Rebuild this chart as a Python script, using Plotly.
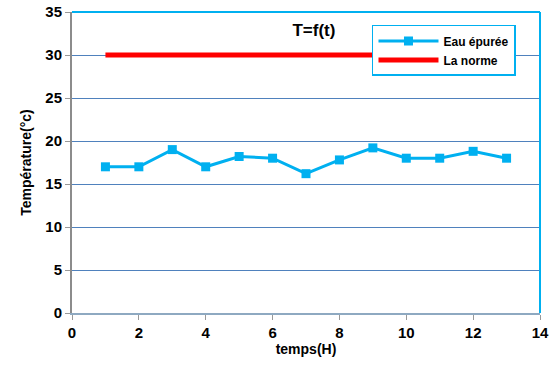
import plotly.graph_objects as go

t_hours = [1, 2, 3, 4, 5, 6, 7, 8, 9, 10, 11, 12, 13]
eau_epuree = [17.0, 17.0, 19.0, 17.0, 18.2, 18.0, 16.2, 17.8, 19.2, 18.0, 18.0, 18.8, 18.0]
norme_x = [1, 13]
norme_y = [30, 30]
x_ticks = [0, 2, 4, 6, 8, 10, 12, 14]
y_ticks = [0, 5, 10, 15, 20, 25, 30, 35]

FONT = "Liberation Sans"

fig = go.Figure()
fig.add_trace(go.Scatter(
    x=t_hours, y=eau_epuree, name="Eau épurée", mode="lines+markers",
    line=dict(color="#00B0F0", width=3),
    marker=dict(symbol="square", size=9, color="#00B0F0"),
))
fig.add_trace(go.Scatter(
    x=norme_x, y=norme_y, name="La norme", mode="lines",
    line=dict(color="#FF0000", width=5),
))

fig.update_layout(
    width=549, height=374,
    margin=dict(l=72, r=9, t=12, b=61, autoexpand=False),
    paper_bgcolor="white", plot_bgcolor="white",
    font=dict(family=FONT, color="black", size=13),
    title=dict(text="<b>T=f(t)</b>", x=0.517, xref="paper", y=1 - 30 / 374, yref="container",
               xanchor="center", yanchor="middle", automargin=False,
               font=dict(size=17, family=FONT)),
    legend=dict(x=0.641, y=0.957, xanchor="left", yanchor="top",
                bgcolor="white", bordercolor="#00B0F0", borderwidth=1.5,
                font=dict(size=12, family=FONT, weight=700), tracegroupgap=0, itemwidth=60),
    showlegend=True,
)
fig.update_xaxes(
    range=[0, 14], tickvals=x_ticks, ticktext=[f"<b>{v}</b>" for v in x_ticks],
    showgrid=False, zeroline=False, automargin=False,
    showline=True, linecolor="#8EA9C1", linewidth=2, mirror=False,
    ticks="outside", ticklen=5, tickcolor="#999999", tickwidth=1,
    tickfont=dict(size=15, family=FONT),
    title=dict(text="<b>temps(H)</b>", font=dict(size=14, family=FONT), standoff=4),
)
fig.update_yaxes(
    range=[0, 35], tickvals=y_ticks, ticktext=[f"<b>{v}</b>" for v in y_ticks],
    showgrid=True, gridcolor="#4F81BD", gridwidth=1,
    zeroline=False, showline=True, linecolor="#8C8C8C", linewidth=2, automargin=False,
    ticks="outside", ticklen=5, tickcolor="#999999", tickwidth=1,
    tickfont=dict(size=15, family=FONT),
    title=dict(text="<b>Température(°c)</b>", font=dict(size=14, family=FONT), standoff=10),
)
# top and right frame lines in light blue
fig.add_shape(type="line", xref="paper", yref="paper", x0=0, x1=1, y0=1, y1=1,
              line=dict(color="#00B0F0", width=2))
fig.add_shape(type="line", xref="paper", yref="paper", x0=1, x1=1, y0=0, y1=1,
              line=dict(color="#00B0F0", width=2))

fig.write_html("out.html")
